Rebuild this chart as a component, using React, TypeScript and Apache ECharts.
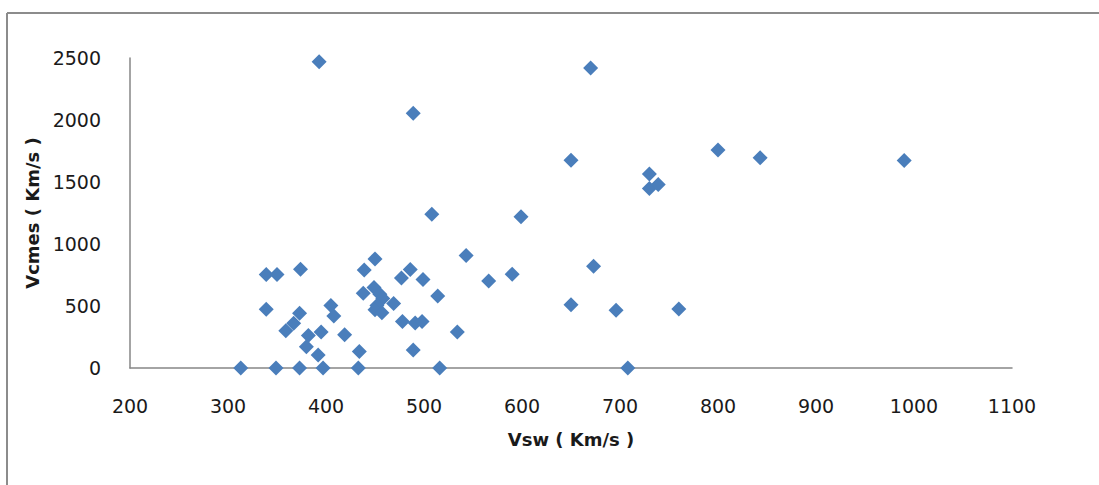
import React, { useEffect, useRef } from "react";
import * as echarts from "echarts";

const vsw: number[] = [
  313, 349, 373, 397, 433, 516, 708,
  392, 380, 382, 395, 419, 359, 367, 373, 405, 408, 339, 339, 350, 374,
  434, 489, 534, 478, 491, 498, 439, 450, 477, 486, 499, 514, 438, 449,
  455, 458, 452, 450, 457, 469, 543, 566, 590, 599, 508, 489, 393, 670,
  650, 650, 673, 696, 760, 730, 730, 739, 800, 843, 990,
];
const vcmes: number[] = [
  0, 0, 0, 0, 0, 0, 0,
  105, 172, 262, 290, 268, 300, 360, 441, 505, 420, 473, 755, 755, 796,
  133, 145, 290, 374, 362, 374, 790, 880, 725, 795, 713, 581, 602, 650,
  595, 560, 505, 470, 445, 520, 908, 702, 757, 1220, 1240, 2055, 2470, 2420,
  1675, 510, 820, 465, 475, 1565, 1447, 1480, 1758, 1695, 1673,
];
const xTicks = { min: 200, max: 1100, interval: 100 };
const yTicks = { min: 0, max: 2500, interval: 500 };
const xName = "Vsw ( Km/s )";
const yName = "Vcmes ( Km/s )";

export default function App() {
  const ref = useRef<HTMLDivElement>(null);
  useEffect(() => {
    document.body.style.margin = "0";
    if (!ref.current) return;
    const chart = echarts.init(ref.current, null, { renderer: "svg" });
    const data = vsw.map((x, i) => [x, vcmes[i]]);
    const labelFont = { fontFamily: "DejaVu Sans", fontSize: 19, color: "#1a1a1a" };
    const fmt = (v: number) => String(v);
    chart.setOption({
      animation: false,
      backgroundColor: "#ffffff",
      grid: { left: 130, right: 87, top: 58, bottom: 117 },
      xAxis: {
        type: "value",
        ...xTicks,
        name: xName,
        nameLocation: "middle",
        nameGap: 62,
        nameTextStyle: { fontFamily: "DejaVu Sans", fontSize: 18, fontWeight: "bold", color: "#1a1a1a" },
        axisLine: { show: true, onZero: false, lineStyle: { color: "#868686", width: 1.5 } },
        axisTick: { show: false },
        splitLine: { show: false },
        axisLabel: { ...labelFont, margin: 28, formatter: fmt },
      },
      yAxis: {
        type: "value",
        ...yTicks,
        name: yName,
        nameLocation: "middle",
        nameGap: 88,
        nameRotate: 90,
        nameTextStyle: { fontFamily: "DejaVu Sans", fontSize: 18, fontWeight: "bold", color: "#1a1a1a" },
        axisLine: { show: true, lineStyle: { color: "#868686", width: 1.5 } },
        axisTick: { show: false },
        splitLine: { show: false },
        axisLabel: { ...labelFont, margin: 29, formatter: fmt },
      },
      series: [
        {
          type: "scatter",
          symbol: "diamond",
          symbolSize: 15,
          itemStyle: { color: "#4A7EBB", opacity: 1 },
          data,
        },
      ],
      graphic: [
        { type: "line", shape: { x1: 7, y1: 13, x2: 1099, y2: 13 }, style: { stroke: "#8c8c8c", lineWidth: 2 } },
        { type: "line", shape: { x1: 7, y1: 13, x2: 7, y2: 485 }, style: { stroke: "#8c8c8c", lineWidth: 2 } },
      ],
    });
    return () => chart.dispose();
  }, []);
  return <div ref={ref} style={{ width: 1099, height: 485 }} />;
}
